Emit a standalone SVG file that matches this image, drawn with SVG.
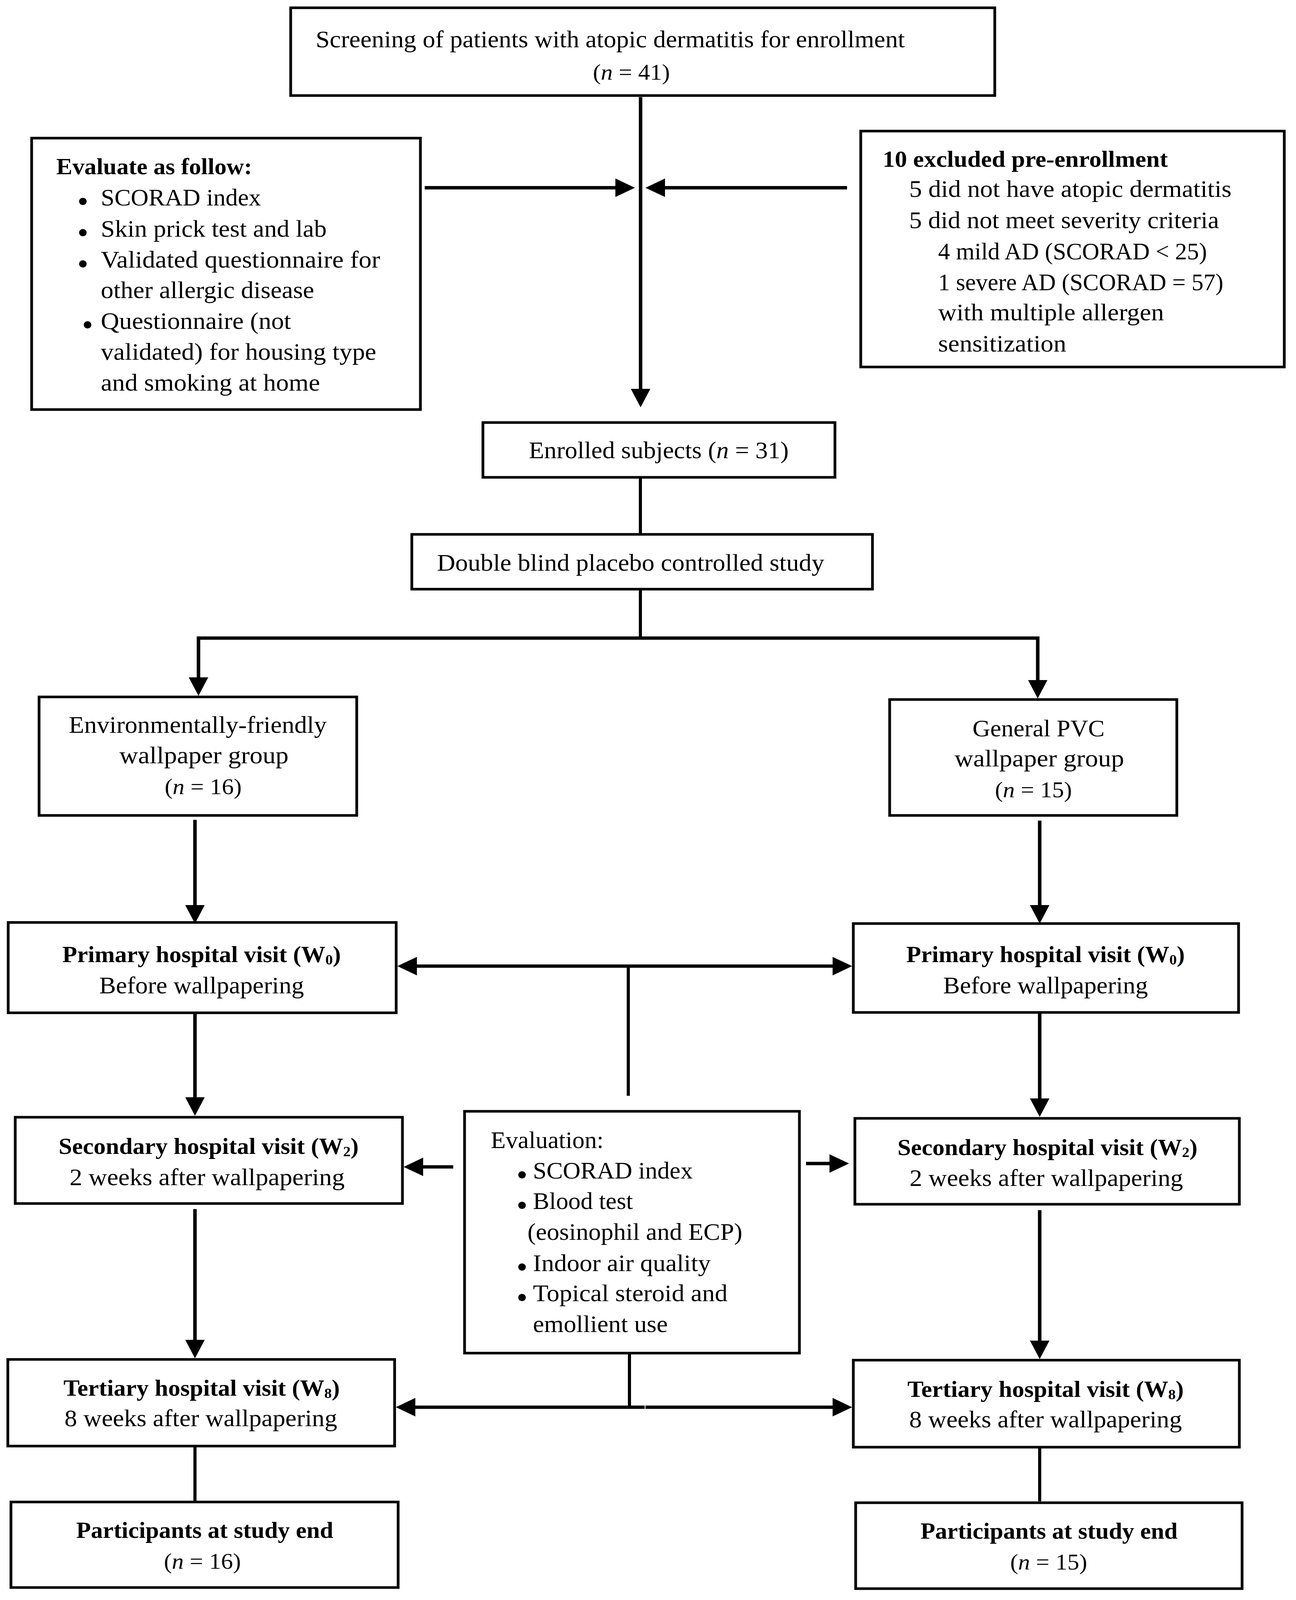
<svg xmlns="http://www.w3.org/2000/svg" width="3317" height="4310" viewBox="0 0 3317 4310">
<style>
.box{fill:#fff;stroke:#000;stroke-width:7}
.t{font-family:"Liberation Serif","Times New Roman",serif;font-size:64px;fill:#000}
.b{font-weight:bold;font-size:62px}
.n{font-size:61px}
.c{text-anchor:middle}
.bul{font-family:"Liberation Sans",Arial,sans-serif;font-size:72px}
.ln{stroke:#000;stroke-width:9;fill:none;stroke-linejoin:miter}
.thin{stroke-width:8}
</style>
<defs>
<marker id="ah" markerUnits="userSpaceOnUse" markerWidth="50" markerHeight="50" viewBox="0 0 50 50" refX="10" refY="25" orient="auto-start-reverse">
<path d="M0,0 L50,25 L0,50 z" fill="#000"/>
</marker>
</defs>
<rect width="3317" height="4310" fill="#fff"/>
<g transform="scale(1 0.948)">

<g id="connectors">
<line class="ln" x1="1639.5" y1="262" x2="1639.5" y2="1060" marker-end="url(#ah)"/>
<line class="ln" x1="1087" y1="507" x2="1585" y2="507" marker-end="url(#ah)"/>
<line class="ln" x1="2168" y1="507" x2="1692" y2="507" marker-end="url(#ah)"/>
<line class="ln thin" x1="1639" y1="1292" x2="1639" y2="1440"/>
<line class="ln thin" x1="1639" y1="1594" x2="1639" y2="1723"/>
<path class="ln" d="M1639,1723 L508,1723 L508,1839" marker-end="url(#ah)"/>
<path class="ln" d="M1639,1723 L2656,1723 L2656,1846" marker-end="url(#ah)"/>
<line class="ln" x1="499" y1="2214" x2="499" y2="2454" marker-end="url(#ah)"/>
<line class="ln" x1="2661" y1="2216" x2="2661" y2="2454" marker-end="url(#ah)"/>
<line class="ln" x1="1057" y1="2609" x2="2141" y2="2609" marker-start="url(#ah)" marker-end="url(#ah)"/>
<line class="ln thin" x1="1608" y1="2609" x2="1608" y2="2959"/>
<line class="ln" x1="499" y1="2735" x2="499" y2="2973" marker-end="url(#ah)"/>
<line class="ln" x1="2661" y1="2734" x2="2661" y2="2976" marker-end="url(#ah)"/>
<line class="ln" x1="1160" y1="3151" x2="1073" y2="3151" marker-end="url(#ah)"/>
<line class="ln" x1="2063" y1="3142" x2="2133" y2="3142" marker-end="url(#ah)"/>
<line class="ln" x1="499" y1="3265" x2="499" y2="3628" marker-end="url(#ah)"/>
<line class="ln" x1="2661" y1="3268" x2="2661" y2="3630" marker-end="url(#ah)"/>
<line class="ln thin" x1="1611" y1="3657" x2="1611" y2="3800"/>
<line class="ln" x1="1650" y1="3800" x2="1053" y2="3800" marker-end="url(#ah)"/>
<line class="ln" x1="1652" y1="3800" x2="2141" y2="3800" marker-end="url(#ah)"/>
<line class="ln thin" x1="499" y1="3908" x2="499" y2="4053"/>
<line class="ln thin" x1="2661" y1="3911" x2="2661" y2="4054"/>
</g>

<g id="screening">
<rect class="box" x="744" y="21" width="1802" height="237"/>
<text class="t" x="808" y="128" textLength="1508" lengthAdjust="spacingAndGlyphs">Screening of patients with atopic dermatitis for enrollment</text>
<text class="t n c" x="1616" y="215">(<tspan font-style="italic">n</tspan> = 41)</text>
</g>

<g id="evaluate">
<rect class="box" x="81" y="373" width="995" height="733"/>
<text class="t b" x="144" y="471" textLength="501" lengthAdjust="spacingAndGlyphs">Evaluate as follow:</text>
<text class="t bul c" x="212" y="568">•</text>
<text class="t" x="258" y="555" textLength="410" lengthAdjust="spacingAndGlyphs">SCORAD index</text>
<text class="t bul c" x="212" y="652">•</text>
<text class="t" x="258" y="639" textLength="578" lengthAdjust="spacingAndGlyphs">Skin prick test and lab</text>
<text class="t bul c" x="212" y="736">•</text>
<text class="t" x="258" y="723" textLength="715" lengthAdjust="spacingAndGlyphs">Validated questionnaire for</text>
<text class="t" x="258" y="805" textLength="546" lengthAdjust="spacingAndGlyphs">other allergic disease</text>
<text class="t bul c" x="224" y="901">•</text>
<text class="t" x="258" y="888" textLength="487" lengthAdjust="spacingAndGlyphs">Questionnaire (not</text>
<text class="t" x="258" y="972" textLength="705" lengthAdjust="spacingAndGlyphs">validated) for housing type</text>
<text class="t" x="258" y="1055" textLength="561" lengthAdjust="spacingAndGlyphs">and smoking at home</text>
</g>

<g id="excluded">
<rect class="box" x="2203" y="354" width="1084" height="637"/>
<text class="t b" x="2259" y="450" textLength="730" lengthAdjust="spacingAndGlyphs">10 excluded pre-enrollment</text>
<text class="t" x="2327" y="532" textLength="825" lengthAdjust="spacingAndGlyphs">5 did not have atopic dermatitis</text>
<text class="t" x="2327" y="616" textLength="793" lengthAdjust="spacingAndGlyphs">5 did not meet severity criteria</text>
<text class="t" x="2401" y="700" textLength="688" lengthAdjust="spacingAndGlyphs">4 mild AD (SCORAD &lt; 25)</text>
<text class="t" x="2401" y="784" textLength="730" lengthAdjust="spacingAndGlyphs">1 severe AD (SCORAD = 57)</text>
<text class="t" x="2401" y="865" textLength="578" lengthAdjust="spacingAndGlyphs">with multiple allergen</text>
<text class="t" x="2401" y="949" textLength="328" lengthAdjust="spacingAndGlyphs">sensitization</text>
</g>

<g id="enrolled">
<rect class="box" x="1236" y="1141" width="901" height="148"/>
<text class="t c" x="1686" y="1237" font-size="62">Enrolled subjects (<tspan font-style="italic">n</tspan> = 31)</text>
</g>

<g id="double-blind">
<rect class="box" x="1054" y="1443" width="1179" height="148"/>
<text class="t c" x="1614" y="1541" textLength="991" lengthAdjust="spacingAndGlyphs">Double blind placebo controlled study</text>
</g>

<g id="env-group">
<rect class="box" x="100" y="1882" width="813" height="320"/>
<text class="t c" x="506" y="1979" textLength="660" lengthAdjust="spacingAndGlyphs">Environmentally-friendly</text>
<text class="t c" x="522" y="2061" textLength="433" lengthAdjust="spacingAndGlyphs">wallpaper group</text>
<text class="t n c" x="520" y="2145">(<tspan font-style="italic">n</tspan> = 16)</text>
</g>

<g id="pvc-group">
<rect class="box" x="2277" y="1889" width="735" height="313"/>
<text class="t c" x="2658" y="1988" textLength="338" lengthAdjust="spacingAndGlyphs">General PVC</text>
<text class="t c" x="2660" y="2070" textLength="434" lengthAdjust="spacingAndGlyphs">wallpaper group</text>
<text class="t n c" x="2645" y="2153">(<tspan font-style="italic">n</tspan> = 15)</text>
</g>

<g id="primary-left">
<rect class="box" x="21" y="2491" width="993" height="244"/>
<text class="t b c" x="516" y="2598">Primary hospital visit (W<tspan font-size="38" dy="6">0</tspan><tspan dy="-6">)</tspan></text>
<text class="t c" x="516" y="2682" textLength="524" lengthAdjust="spacingAndGlyphs">Before wallpapering</text>
</g>

<g id="primary-right">
<rect class="box" x="2184" y="2494" width="986" height="240"/>
<text class="t b c" x="2676" y="2598">Primary hospital visit (W<tspan font-size="38" dy="6">0</tspan><tspan dy="-6">)</tspan></text>
<text class="t c" x="2676" y="2682" textLength="524" lengthAdjust="spacingAndGlyphs">Before wallpapering</text>
</g>

<g id="evaluation">
<rect class="box" x="1189" y="3001" width="857" height="653"/>
<text class="t" x="1256" y="3100" textLength="289" lengthAdjust="spacingAndGlyphs">Evaluation:</text>
<text class="t bul c" x="1336" y="3196">•</text>
<text class="t" x="1364" y="3183" textLength="409" lengthAdjust="spacingAndGlyphs">SCORAD index</text>
<text class="t bul c" x="1336" y="3278">•</text>
<text class="t" x="1364" y="3265" textLength="256" lengthAdjust="spacingAndGlyphs">Blood test</text>
<text class="t" x="1350" y="3348" textLength="550" lengthAdjust="spacingAndGlyphs">(eosinophil and ECP)</text>
<text class="t bul c" x="1336" y="3445">•</text>
<text class="t" x="1364" y="3432" textLength="455" lengthAdjust="spacingAndGlyphs">Indoor air quality</text>
<text class="t bul c" x="1336" y="3527">•</text>
<text class="t" x="1364" y="3514" textLength="498" lengthAdjust="spacingAndGlyphs">Topical steroid and</text>
<text class="t" x="1364" y="3597" textLength="345" lengthAdjust="spacingAndGlyphs">emollient use</text>
</g>

<g id="secondary-left">
<rect class="box" x="39" y="3017" width="991" height="233"/>
<text class="t b c" x="534" y="3116">Secondary hospital visit (W<tspan font-size="38" dy="6">2</tspan><tspan dy="-6">)</tspan></text>
<text class="t c" x="530" y="3200" textLength="704" lengthAdjust="spacingAndGlyphs">2 weeks after wallpapering</text>
</g>

<g id="secondary-right">
<rect class="box" x="2188" y="3020" width="984" height="232"/>
<text class="t b c" x="2681" y="3119">Secondary hospital visit (W<tspan font-size="38" dy="6">2</tspan><tspan dy="-6">)</tspan></text>
<text class="t c" x="2678" y="3203" textLength="700" lengthAdjust="spacingAndGlyphs">2 weeks after wallpapering</text>
</g>

<g id="tertiary-left">
<rect class="box" x="20" y="3671" width="990" height="234"/>
<text class="t b c" x="516" y="3769">Tertiary hospital visit (W<tspan font-size="38" dy="6">8</tspan><tspan dy="-6">)</tspan></text>
<text class="t c" x="514" y="3851" textLength="698" lengthAdjust="spacingAndGlyphs">8 weeks after wallpapering</text>
</g>

<g id="tertiary-right">
<rect class="box" x="2184" y="3673" width="988" height="235"/>
<text class="t b c" x="2676" y="3772">Tertiary hospital visit (W<tspan font-size="38" dy="6">8</tspan><tspan dy="-6">)</tspan></text>
<text class="t c" x="2676" y="3854" textLength="698" lengthAdjust="spacingAndGlyphs">8 weeks after wallpapering</text>
</g>

<g id="participants-left">
<rect class="box" x="28" y="4056" width="991" height="231"/>
<text class="t b c" x="524" y="4153" textLength="658" lengthAdjust="spacingAndGlyphs">Participants at study end</text>
<text class="t n c" x="518" y="4236">(<tspan font-style="italic">n</tspan> = 16)</text>
</g>

<g id="participants-right">
<rect class="box" x="2190" y="4058" width="989" height="232"/>
<text class="t b c" x="2685" y="4155" textLength="658" lengthAdjust="spacingAndGlyphs">Participants at study end</text>
<text class="t n c" x="2684" y="4238">(<tspan font-style="italic">n</tspan> = 15)</text>
</g>
</g>
</svg>
